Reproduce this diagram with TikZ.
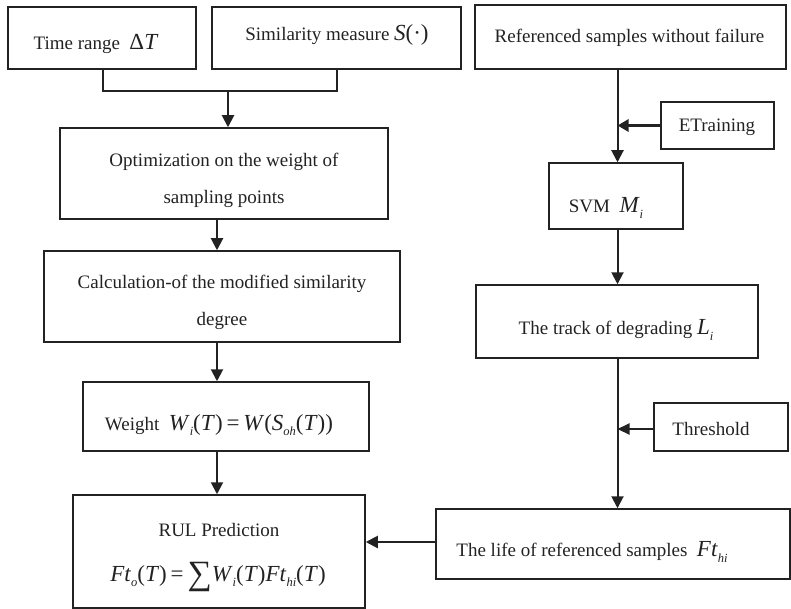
\documentclass[tikz,border=0pt]{standalone}
\usepackage{fontspec}
\setmainfont{Liberation Serif}
\usetikzlibrary{arrows.meta}
\definecolor{ink}{HTML}{222222}
% formula helpers: larger size, italic variables, small lowered indices
\newcommand\fm[1]{{\fontsize{23}{23}\selectfont #1}}
\newcommand\V[1]{\textit{#1}}
\newcommand\ix[1]{\raisebox{-0.5ex}{\fontsize{12.5}{12.5}\selectfont\textit{#1}}}
\newcommand\bigsum{\raisebox{-0.28ex}{\fontsize{34}{34}\selectfont ∑}}
\begin{document}
\begin{tikzpicture}[x=1pt,y=-1pt,
  box/.style args={#1 by #2}{draw=ink,line width=1.5pt,inner sep=0pt,
    minimum width=#1pt,minimum height=#2pt},
  txt/.style={inner sep=0pt,align=center,text=ink,
    font=\fontsize{19}{37}\selectfont},
  link/.style={draw=ink,line width=2pt},
  arr/.style={link,-{Triangle[length=12pt,width=12pt]}},
  sarr/.style={draw=ink,line width=2.2pt,-{Triangle[length=12pt,width=11pt]}},
  warr/.style={draw=ink,line width=3pt,-{Triangle[length=11pt,width=12pt]}}]
\useasboundingbox (0,0) rectangle (791,609);

% ---- left column ----
\node[box=188 by 62] (tr) at (102,38) {};
\node[txt] (trt) at (96,44) {Time range\ \ \fm{Δ\V{T}}};
\node[box=249 by 62] (sm) at (336.5,38) {};
\node[txt] (smt) at (337,35) {Similarity measure \fm{\V{S}(·)}};

\node[box=328 by 91] (opt) at (224,173.5) {};
\node[txt] (optt) at (224,180) {Optimization on the weight of\\sampling points};

\node[box=356 by 91] (calc) at (222,296.5) {};
\node[txt] (calct) at (222,302) {Calculation-of the modified similarity\\degree};

\node[box=286 by 69] (wt) at (226,416.5) {};
\node[txt] (wtt) at (219,425) {Weight\ \ \fm{\V{W}\ix{i}(\V{T})\,=\,\V{W}(\V{S}\ix{oh}(\V{T}))}};

\node[box=292 by 113] (rul) at (219,551.5) {};
\node[txt] (rult) at (219,530) {RUL Prediction};
\node[txt] (rulf) at (218,577) {\fm{\V{Ft}\ix{o}(\V{T})\,=\,\bigsum\V{W}\ix{i}(\V{T})\V{Ft}\ix{hi}(\V{T})}};

% ---- right column ----
\node[box=311 by 64] (ref) at (630.5,37) {};
\node[txt] (reft) at (629.5,38) {Referenced samples without failure};

\node[box=113 by 47] (etr) at (717.5,125.5) {};
\node[txt] (etrt) at (717,127) {ETraining};

\node[box=134 by 66] (svm) at (616,196) {};
\node[txt] (svmt) at (606,208) {SVM\ \ \fm{\V{M}\ix{i}}};

\node[box=282 by 73] (trk) at (617,321.5) {};
\node[txt] (trkt) at (616,330) {The track of degrading \fm{\V{L}\ix{i}}};

\node[box=134 by 48] (thr) at (721,427) {};
\node[txt] (thrt) at (711,429) {Threshold};

\node[box=354 by 70] (life) at (613,544) {};
\node[txt] (lifet) at (592,552) {The life of referenced samples\ \ \fm{\V{Ft}\ix{hi}}};

% ---- trunk positions ----
\coordinate (lx) at (217,0);
\coordinate (rx) at (617.5,0);
\coordinate (j1) at (228,91);
\coordinate (ly) at (0,542);

% ---- connectors ----
\draw[link] (tr.south -| 103,0) |- (j1) -| (sm.south);
\draw[arr] (j1) -- (j1 |- opt.north);
\draw[arr] (opt.south -| lx) -- (calc.north -| lx);
\draw[arr] (calc.south -| lx) -- (wt.north -| lx);
\draw[arr] (wt.south -| lx) -- (rul.north -| lx);

\draw[arr] (ref.south -| rx) -- (svm.north -| rx);
\draw[warr] (etr.west) -- (etr.west -| rx);
\draw[arr] (svm.south -| rx) -- (trk.north -| rx);
\draw[arr] (trk.south -| rx) -- (life.north -| rx);
\draw[sarr] (thr.west |- 0,429) -- (rx |- 0,429);
\draw[arr] (life.west |- ly) -- (rul.east |- ly);
\end{tikzpicture}
\end{document}
